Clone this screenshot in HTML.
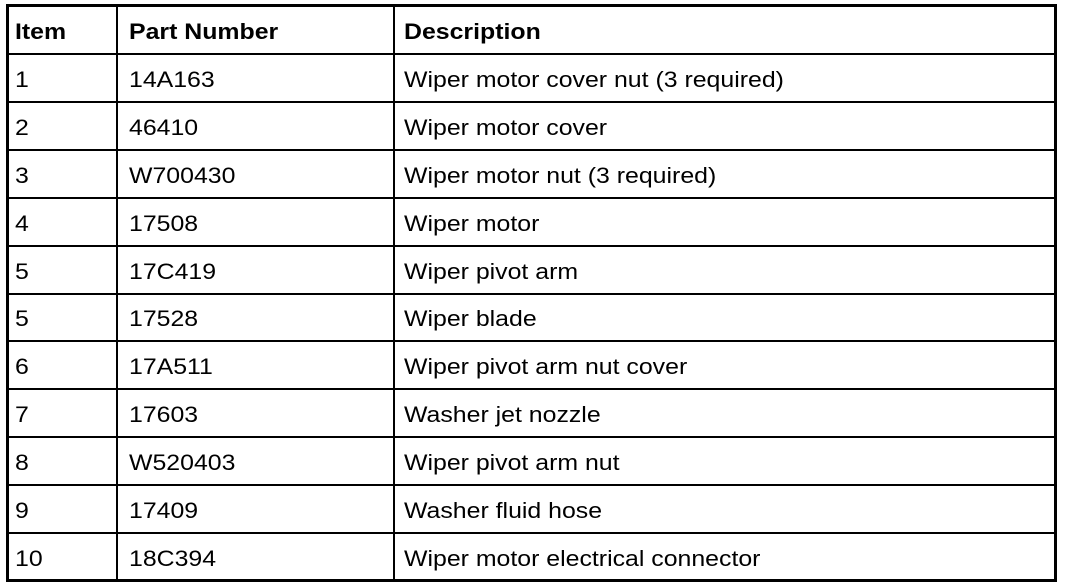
<!DOCTYPE html>
<html><head><style>
body{margin:0;width:1072px;height:588px;background:#fff;position:relative;overflow:hidden;font-family:"Liberation Sans",Arial,sans-serif;color:#000}
.h{position:absolute;left:6px;width:1051px;height:2px;background:#000}
.v{position:absolute;top:6px;width:2px;height:575px;background:#000}
.r{position:absolute;left:0;width:1072px;height:48px}
.r div{position:absolute;top:13px;font-size:22px;line-height:24px;white-space:nowrap;transform:scaleX(1.13);transform-origin:0 0}
.a{left:15px}.p{left:129px}.d{left:404px}
.b div{font-weight:bold}
</style></head><body>
<div style="position:absolute;left:6px;top:4px;width:1045px;height:572px;border:3px solid #000"></div>
<div class="v" style="left:116px"></div>
<div class="v" style="left:393px"></div>
<div class="h" style="top:53px"></div>
<div class="h" style="top:101px"></div>
<div class="h" style="top:149px"></div>
<div class="h" style="top:197px"></div>
<div class="h" style="top:245px"></div>
<div class="h" style="top:293px"></div>
<div class="h" style="top:340px"></div>
<div class="h" style="top:388px"></div>
<div class="h" style="top:436px"></div>
<div class="h" style="top:484px"></div>
<div class="h" style="top:532px"></div>
<div class="r b" style="top:7px"><div class="a">Item</div><div class="p">Part Number</div><div class="d">Description</div></div>
<div class="r" style="top:55px"><div class="a">1</div><div class="p">14A163</div><div class="d">Wiper motor cover nut (3 required)</div></div>
<div class="r" style="top:103px"><div class="a">2</div><div class="p">46410</div><div class="d">Wiper motor cover</div></div>
<div class="r" style="top:151px"><div class="a">3</div><div class="p">W700430</div><div class="d">Wiper motor nut (3 required)</div></div>
<div class="r" style="top:199px"><div class="a">4</div><div class="p">17508</div><div class="d">Wiper motor</div></div>
<div class="r" style="top:247px"><div class="a">5</div><div class="p">17C419</div><div class="d">Wiper pivot arm</div></div>
<div class="r" style="top:294px"><div class="a">5</div><div class="p">17528</div><div class="d">Wiper blade</div></div>
<div class="r" style="top:342px"><div class="a">6</div><div class="p">17A511</div><div class="d">Wiper pivot arm nut cover</div></div>
<div class="r" style="top:390px"><div class="a">7</div><div class="p">17603</div><div class="d">Washer jet nozzle</div></div>
<div class="r" style="top:438px"><div class="a">8</div><div class="p">W520403</div><div class="d">Wiper pivot arm nut</div></div>
<div class="r" style="top:486px"><div class="a">9</div><div class="p">17409</div><div class="d">Washer fluid hose</div></div>
<div class="r" style="top:534px"><div class="a">10</div><div class="p">18C394</div><div class="d">Wiper motor electrical connector</div></div>
</body></html>
